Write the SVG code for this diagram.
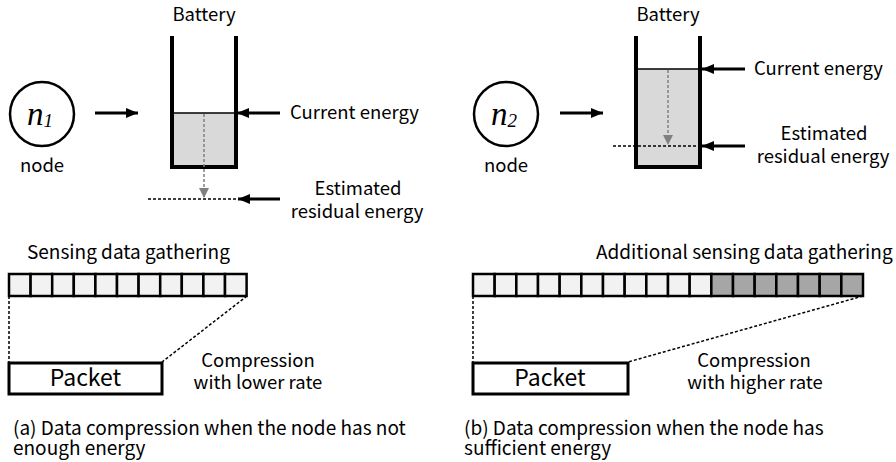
<svg xmlns="http://www.w3.org/2000/svg" width="896" height="462" viewBox="0 0 896 462">
<defs>
<marker id="ah" markerWidth="12" markerHeight="10" refX="12" refY="5" orient="auto" markerUnits="userSpaceOnUse">
<path d="M0,0 L12,5 L0,10 Z" fill="#000"/>
</marker>
<marker id="gh" markerWidth="10" markerHeight="10" refX="10" refY="5" orient="auto" markerUnits="userSpaceOnUse">
<path d="M0,0 L10,5 L0,10 Z" fill="#808080"/>
</marker>
</defs>
<style>
text{font-family:"Noto Sans CJK JP","Noto Sans",sans-serif;font-size:18.5px;fill:#000}
.cap{font-size:19px}
.big{font-size:23px}
.var{font-family:"Liberation Serif",serif;font-style:italic;font-size:33px}
.sub{font-size:19px}
.wall{fill:none;stroke:#000;stroke-width:4;stroke-linejoin:miter}
.lvl{fill:#d9d9d9}
.arr{stroke:#000;stroke-width:3;fill:none}
.garr{stroke:#808080;stroke-width:1.5;stroke-dasharray:3,2;fill:none}
.dash{stroke:#000;stroke-width:1.5;stroke-dasharray:3,2;fill:none}
.cell{fill:#f2f2f2;stroke:#000;stroke-width:2.5}
.cell2{fill:#a6a6a6;stroke:#000;stroke-width:2.5}
.pk{fill:#fff;stroke:#000;stroke-width:3}
.nd{fill:#fff;stroke:#000;stroke-width:2.5}
</style>
<rect width="896" height="462" fill="#fff"/>

<!-- Panel (a) -->
<g id="node-n1">
<circle class="nd" cx="42" cy="114" r="32"/>
<text class="var" x="40" y="125" text-anchor="middle">n<tspan class="sub" dy="2">1</tspan></text>
<text x="42" y="172" text-anchor="middle">node</text>
</g>
<g id="battery-a">
<text x="204" y="21" text-anchor="middle">Battery</text>
<rect class="lvl" x="172" y="113" width="64" height="54"/>
<line x1="172" y1="113" x2="236" y2="113" stroke="#000" stroke-width="1.5"/>
<path class="wall" d="M172,36 V167 H236 V36"/>
<line class="dash" x1="148" y1="199" x2="237" y2="199"/>
</g>
<g id="label-a-current">
<text x="290" y="119">Current energy</text>
</g>
<g id="label-a-estimated">
<text x="358" y="195" text-anchor="middle">Estimated</text>
<text x="357" y="218" text-anchor="middle">residual energy</text>
</g>
<g id="data-a">
<text class="cap" x="27" y="259">Sensing data gathering</text>
<rect class="cell" x="9" y="274" width="21.6" height="22"/>
<rect class="cell" x="30.6" y="274" width="21.6" height="22"/>
<rect class="cell" x="52.2" y="274" width="21.6" height="22"/>
<rect class="cell" x="73.8" y="274" width="21.6" height="22"/>
<rect class="cell" x="95.4" y="274" width="21.6" height="22"/>
<rect class="cell" x="117" y="274" width="21.6" height="22"/>
<rect class="cell" x="138.6" y="274" width="21.6" height="22"/>
<rect class="cell" x="160.2" y="274" width="21.6" height="22"/>
<rect class="cell" x="181.8" y="274" width="21.6" height="22"/>
<rect class="cell" x="203.4" y="274" width="21.6" height="22"/>
<rect class="cell" x="225" y="274" width="21.6" height="22"/>
</g>
<g id="packet-a">
<rect class="pk" x="9" y="363" width="153" height="31"/>
<text class="big" x="85.5" y="386" text-anchor="middle">Packet</text>
</g>
<g id="label-a-compression">
<text x="258" y="367" text-anchor="middle">Compression</text>
<text x="258" y="389" text-anchor="middle">with lower rate</text>
</g>
<g id="caption-a">
<text class="cap" x="13" y="435">(a) Data compression when the node has not</text>
<text class="cap" x="13" y="455">enough energy</text>
</g>

<!-- Panel (b) -->
<g id="node-n2">
<circle class="nd" cx="506" cy="114" r="32"/>
<text class="var" x="504" y="125" text-anchor="middle">n<tspan class="sub" dy="2">2</tspan></text>
<text x="506" y="172" text-anchor="middle">node</text>
</g>
<g id="battery-b">
<text x="668" y="21" text-anchor="middle">Battery</text>
<rect class="lvl" x="636" y="69" width="64" height="98"/>
<line x1="636" y1="69" x2="700" y2="69" stroke="#000" stroke-width="1.5"/>
<path class="wall" d="M636,36 V167 H700 V36"/>
<line class="dash" x1="613" y1="146" x2="701" y2="146"/>
</g>
<g id="label-b-current">
<text x="754" y="75">Current energy</text>
</g>
<g id="label-b-estimated">
<text x="824" y="140" text-anchor="middle">Estimated</text>
<text x="823" y="163" text-anchor="middle">residual energy</text>
</g>
<g id="data-b">
<text class="cap" x="596" y="259">Additional sensing data gathering</text>
<rect class="cell" x="473" y="274" width="21.67" height="22"/>
<rect class="cell" x="494.67" y="274" width="21.67" height="22"/>
<rect class="cell" x="516.33" y="274" width="21.67" height="22"/>
<rect class="cell" x="538" y="274" width="21.67" height="22"/>
<rect class="cell" x="559.67" y="274" width="21.67" height="22"/>
<rect class="cell" x="581.33" y="274" width="21.67" height="22"/>
<rect class="cell" x="603" y="274" width="21.67" height="22"/>
<rect class="cell" x="624.67" y="274" width="21.67" height="22"/>
<rect class="cell" x="646.33" y="274" width="21.67" height="22"/>
<rect class="cell" x="668" y="274" width="21.67" height="22"/>
<rect class="cell" x="689.67" y="274" width="21.67" height="22"/>
<rect class="cell2" x="711.33" y="274" width="21.67" height="22"/>
<rect class="cell2" x="733" y="274" width="21.67" height="22"/>
<rect class="cell2" x="754.67" y="274" width="21.67" height="22"/>
<rect class="cell2" x="776.33" y="274" width="21.67" height="22"/>
<rect class="cell2" x="798" y="274" width="21.67" height="22"/>
<rect class="cell2" x="819.67" y="274" width="21.67" height="22"/>
<rect class="cell2" x="841.33" y="274" width="21.67" height="22"/>
</g>
<g id="packet-b">
<rect class="pk" x="473" y="363" width="155" height="31"/>
<text class="big" x="550" y="386" text-anchor="middle">Packet</text>
</g>
<g id="label-b-compression">
<text x="754" y="367" text-anchor="middle">Compression</text>
<text x="755" y="389" text-anchor="middle">with higher rate</text>
</g>
<g id="caption-b">
<text class="cap" x="464" y="435">(b) Data compression when the node has</text>
<text class="cap" x="464" y="455">sufficient energy</text>
</g>

<g id="connectors">
<line class="arr" x1="95" y1="113" x2="138" y2="113" marker-end="url(#ah)"/>
<line class="arr" x1="280" y1="113" x2="237" y2="113" marker-end="url(#ah)"/>
<line class="arr" x1="280" y1="199" x2="238" y2="199" marker-end="url(#ah)"/>
<line class="garr" x1="204" y1="114" x2="204" y2="198" marker-end="url(#gh)"/>
<line class="dash" x1="9" y1="296" x2="9" y2="362"/>
<line class="dash" x1="247" y1="296" x2="162" y2="362"/>
<line class="arr" x1="560" y1="113" x2="603" y2="113" marker-end="url(#ah)"/>
<line class="arr" x1="745" y1="69" x2="702" y2="69" marker-end="url(#ah)"/>
<line class="arr" x1="745" y1="146" x2="702" y2="146" marker-end="url(#ah)"/>
<line class="garr" x1="668" y1="70" x2="668" y2="145" marker-end="url(#gh)"/>
<line class="dash" x1="473" y1="296" x2="473" y2="362"/>
<line class="dash" x1="863" y1="296" x2="628" y2="362"/>
</g>
</svg>
